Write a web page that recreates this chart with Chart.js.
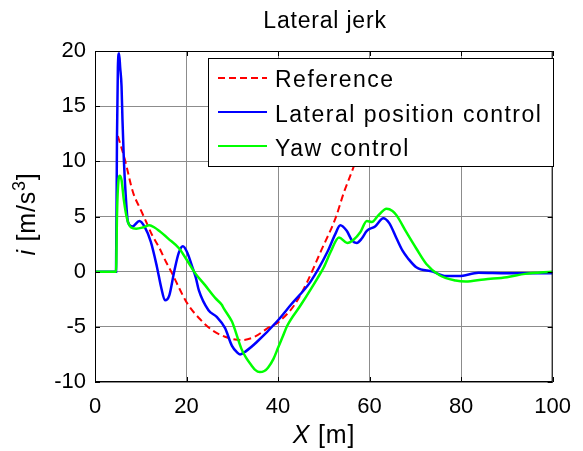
<!DOCTYPE html>
<html>
<head>
<meta charset="utf-8">
<script src="https://cdn.jsdelivr.net/npm/chart.js@4.4.0/dist/chart.umd.min.js"></script>
<style>
  html, body { margin: 0; padding: 0; background: #fff; overflow: hidden; }
  #jerk { display: block; }
</style>
</head>
<body>
<canvas id="jerk" width="583" height="451"></canvas>
<script>
var xTicks = [0, 20, 40, 60, 80, 100];
var yTicks = [-10, -5, 0, 5, 10, 15, 20];

var refX = [5, 6.5, 8.3, 10, 11.2, 12.5, 14, 15.5, 16.9, 18.4, 20.2, 22.7, 25.6, 28.4, 30, 32, 34.9, 37.8, 40, 43.6, 46.4, 49.3, 52.6, 54.4, 56.5, 58, 60];
var refY = [12.3, 10.2, 7.2, 5.6, 4.5, 3.3, 2.2, 0.9, -0.2, -1.5, -2.9, -4.2, -5.3, -5.9, -6.1, -6.2, -5.9, -5.1, -4.6, -3.0, -0.9, 1.8, 4.9, 7.2, 9.5, 11.5, 14];

var latX = [0, 4.6, 4.8, 5.0, 5.25, 5.5, 5.8, 6.0, 6.3, 6.7, 7.2, 8.2, 9.7, 10.8, 12.2, 13.5, 14.5, 15.3, 16.2, 17.3, 18.3, 19.2, 20.2, 21.2, 22, 22.7, 24.8, 26.6, 28.4, 29.9, 31, 31.7, 33, 35.3, 40, 42.8, 47.1, 50.8, 52.5, 53.6, 55, 56.2, 57.2, 58.3, 59.4, 61.2, 63, 64.3, 65.9, 67.2, 68.4, 70.2, 73.8, 76.7, 79.5, 83.8, 90, 100];
var latY = [0, 0, 12, 18.5, 19.8, 18.5, 16.8, 13.8, 10.2, 7, 4.5, 4.1, 4.6, 4.1, 2.7, 0.5, -1.5, -2.6, -2.2, 0, 1.7, 2.3, 1.7, 0.5, -0.5, -1.7, -3.5, -4.1, -5.1, -6.7, -7.3, -7.5, -7.2, -6.4, -4.4, -3.0, -0.9, 1.8, 3.4, 4.2, 3.7, 2.8, 2.6, 3.0, 3.7, 4.1, 4.85, 4.4, 3.0, 1.9, 1.2, 0.4, 0, -0.4, -0.4, -0.1, -0.15, -0.15];

var yawX = [0, 4.6, 4.8, 5.0, 5.4, 5.8, 6.3, 7.0, 7.9, 9, 10.4, 11.9, 13, 14, 16, 18.4, 20, 22, 24, 26.3, 27.7, 28.1, 29.9, 30.2, 32, 33, 34.2, 35, 36, 37, 37.8, 39, 40, 41, 42, 45, 48.6, 50, 51.5, 53.3, 55.1, 56.5, 58, 59.4, 60.5, 61.9, 63.7, 65, 65.9, 68, 70.2, 72.4, 75.2, 78.8, 81, 85, 90, 94, 100];
var yawY = [0, 0, 5, 7.5, 8.7, 8.3, 6.5, 4.8, 4.0, 3.9, 4.0, 4.2, 4.0, 3.7, 3.0, 2.1, 1.1, -0.2, -1.2, -2.4, -3.0, -3.3, -4.5, -4.8, -7.0, -7.8, -8.5, -8.9, -9.1, -9.0, -8.7, -7.9, -6.9, -5.9, -4.9, -3.0, -0.6, 0.4, 1.8, 3.1, 2.6, 2.9, 3.6, 4.6, 4.5, 5.1, 5.7, 5.5, 5.1, 3.6, 2.1, 0.7, -0.3, -0.8, -0.9, -0.7, -0.5, -0.2, 0.0];

var seriesNames = ["Reference", "Lateral position control", "Yaw control"];
var seriesColors = ["#ff0000", "#0000ff", "#00ff00"];

function pts(xs, ys) {
  return xs.map(function (x, i) { return { x: x, y: ys[i] }; });
}

var FONT = "Arial, 'Liberation Sans', Helvetica, sans-serif";

// MATLAB style frame, inside ticks, titles and boxed legend
var matlabDecor = {
  id: 'matlabDecor',
  afterDatasetsDraw: function (chart) {
    var ctx = chart.ctx, a = chart.chartArea;
    var xs = chart.scales.x, ys = chart.scales.y;
    ctx.save();
    ctx.strokeStyle = '#000';
    ctx.lineWidth = 1;
    ctx.strokeRect(a.left + 0.5, a.top + 0.5, a.right - a.left - 1, a.bottom - a.top - 1);
    ctx.beginPath();
    xTicks.forEach(function (t) {
      var px = Math.round(xs.getPixelForValue(t)) + 0.5;
      ctx.moveTo(px, a.bottom); ctx.lineTo(px, a.bottom - 5);
      ctx.moveTo(px, a.top); ctx.lineTo(px, a.top + 5);
    });
    yTicks.forEach(function (t) {
      var py = Math.round(ys.getPixelForValue(t)) + 0.5;
      ctx.moveTo(a.left, py); ctx.lineTo(a.left + 5, py);
      ctx.moveTo(a.right, py); ctx.lineTo(a.right - 5, py);
    });
    ctx.stroke();

    // legend box
    var bx = 208, by = 58, bw = 345, bh = 108;
    var lineY = [78, 112, 146], textY = [87, 122, 156];
    ctx.fillStyle = '#fff';
    ctx.fillRect(bx, by, bw, bh);
    ctx.strokeRect(bx + 0.5, by + 0.5, bw, bh);
    ctx.font = '23px ' + FONT;
    ctx.letterSpacing = '1.5px';
    ctx.textBaseline = 'alphabetic';
    ctx.textAlign = 'left';
    for (var i = 0; i < seriesNames.length; i++) {
      ctx.strokeStyle = seriesColors[i];
      ctx.lineWidth = 2;
      ctx.setLineDash(i === 0 ? [7, 4] : []);
      ctx.beginPath();
      ctx.moveTo(218, lineY[i]); ctx.lineTo(267, lineY[i]);
      ctx.stroke();
      ctx.setLineDash([]);
      ctx.fillStyle = '#000';
      ctx.fillText(seriesNames[i], 275, textY[i]);
    }

    // chart title
    ctx.font = '23px ' + FONT;
    ctx.letterSpacing = '0.8px';
    ctx.textAlign = 'center';
    ctx.fillText('Lateral jerk', 325, 28);

    // x axis title: italic X + " [m]"
    ctx.letterSpacing = '0.8px';
    ctx.font = 'italic 25px ' + FONT;
    var w1 = ctx.measureText('X').width;
    ctx.font = '25px ' + FONT;
    var w2 = ctx.measureText(' [m]').width;
    var cx = 324 - (w1 + w2) / 2;
    ctx.textAlign = 'left';
    ctx.font = 'italic 25px ' + FONT;
    ctx.fillText('X', cx, 443);
    ctx.font = '25px ' + FONT;
    ctx.fillText(' [m]', cx + w1, 443);

    // y axis title rotated: italic i + " [m/s" + superscript 3 + "]"
    ctx.translate(35, 214);
    ctx.rotate(-Math.PI / 2);
    var parts = [
      { t: 'i', f: 'italic 25px ' + FONT, dy: 0 },
      { t: ' [m/s', f: '25px ' + FONT, dy: 0 },
      { t: '3', f: '18px ' + FONT, dy: -10 },
      { t: ']', f: '25px ' + FONT, dy: 0 }
    ];
    var total = 0;
    parts.forEach(function (p) { ctx.font = p.f; p.w = ctx.measureText(p.t).width; total += p.w; });
    var px0 = -total / 2;
    parts.forEach(function (p) {
      ctx.font = p.f;
      ctx.fillText(p.t, px0, p.dy);
      px0 += p.w;
    });
    ctx.restore();
  }
};

var ctx = document.getElementById("jerk");
var data = {
  datasets: [
    { label: seriesNames[0], data: pts(refX, refY), borderColor: seriesColors[0], borderWidth: 2, borderDash: [7, 4], order: 3 },
    { label: seriesNames[1], data: pts(latX, latY), borderColor: seriesColors[1], borderWidth: 2.5, order: 2 },
    { label: seriesNames[2], data: pts(yawX, yawY), borderColor: seriesColors[2], borderWidth: 2.5, order: 1 }
  ]
};

var options = {
  responsive: false,
  animation: false,
  layout: { padding: { top: 51, right: 26, left: 0, bottom: 0 } },
  elements: { point: { radius: 0 }, line: { cubicInterpolationMode: 'monotone', fill: false } },
  plugins: { legend: { display: false }, title: { display: false }, tooltip: { enabled: false } },
  scales: {
    x: {
      type: 'linear', min: 0, max: 100,
      afterFit: function (s) { s.height = 69; },
      afterBuildTicks: function (s) { s.ticks = xTicks.map(function (v) { return { value: v }; }); },
      grid: { color: '#8c8c8c', drawTicks: false },
      border: { display: false },
      ticks: { color: '#000', font: { size: 22, family: FONT }, padding: 12, maxRotation: 0 }
    },
    y: {
      min: -10, max: 20,
      afterFit: function (s) { s.width = 95; },
      afterBuildTicks: function (s) { s.ticks = yTicks.map(function (v) { return { value: v }; }); },
      grid: { color: '#8c8c8c', drawTicks: false },
      border: { display: false },
      ticks: { color: '#000', font: { size: 22, family: FONT }, padding: 9 }
    }
  }
};

var chart = new Chart(ctx, {
  type: 'line',
  data: data,
  options: options,
  plugins: [matlabDecor]
});
</script>
</body>
</html>
